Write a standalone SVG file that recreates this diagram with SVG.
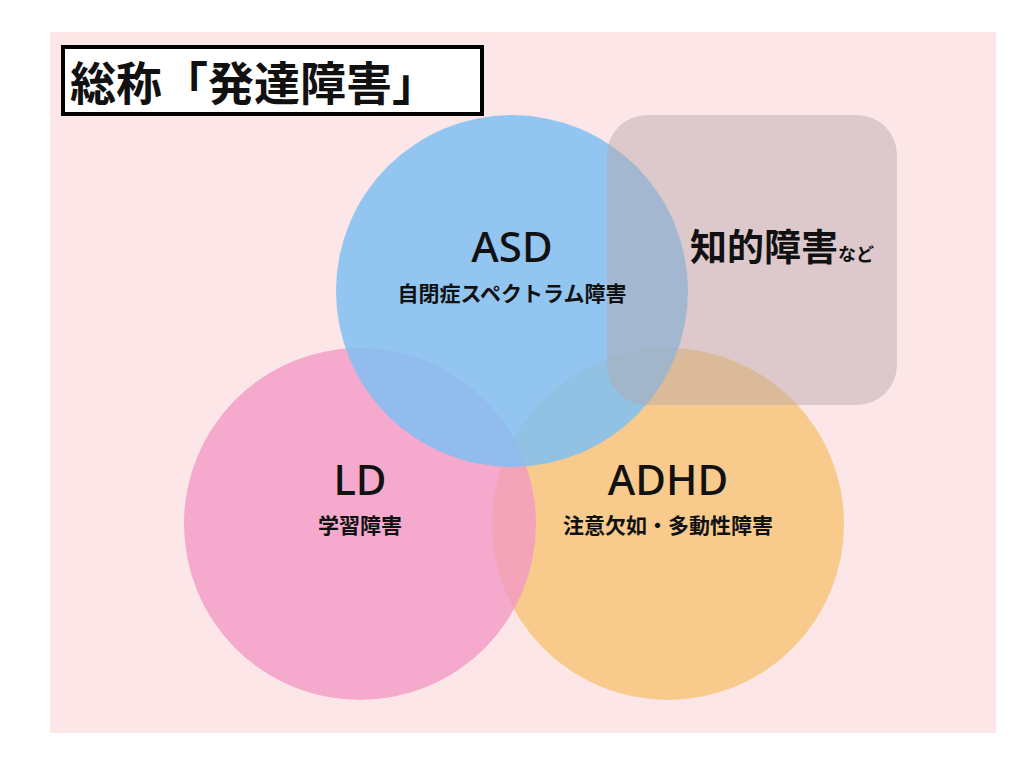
<svg xmlns="http://www.w3.org/2000/svg" width="1024" height="768" viewBox="0 0 1024 768">
<style>
.t{font-family:"Noto Sans CJK JP","Noto Sans",sans-serif;font-weight:bold;fill:#111;text-anchor:middle}
.big{font-size:42px;font-family:"Noto Sans","Noto Sans CJK JP",sans-serif;font-weight:500}
.sub{font-size:21px}
</style>
<rect width="1024" height="768" fill="#fff"/>
<rect x="50" y="32" width="946" height="701" fill="#fce6e8"/>
<g id="title">
<rect x="63" y="47" width="419" height="67" fill="#fff" stroke="#000" stroke-width="4"/>
<text x="70" y="100" class="t" style="font-size:46px;text-anchor:start">総称「発達障害」</text>
</g>
<g id="adhd">
<circle cx="668" cy="524" r="176" fill="#f7c67c" fill-opacity="0.85"/>
</g>
<g id="ld">
<circle cx="360" cy="524" r="176" fill="#f29ac4" fill-opacity="0.8"/>
</g>
<g id="asd">
<circle cx="512" cy="291" r="176" fill="#7fc0f2" fill-opacity="0.85"/>
</g>
<g id="id">
<rect x="607" y="115" width="290" height="290" rx="40" fill="#b8a6a8" fill-opacity="0.45"/>
<text x="690" y="261" class="t" style="font-size:37px;text-anchor:start">知的障害<tspan style="font-size:18px">など</tspan></text>
</g>
<g id="labels">
<text x="512" y="262" class="t big">ASD</text>
<text x="512" y="301" class="t sub">自閉症スペクトラム障害</text>
<text x="360" y="495" class="t big">LD</text>
<text x="360" y="533" class="t sub">学習障害</text>
<text x="668" y="495" class="t big">ADHD</text>
<text x="668" y="533" class="t sub">注意欠如・多動性障害</text>
</g>
<g id="connectors"/>
</svg>
